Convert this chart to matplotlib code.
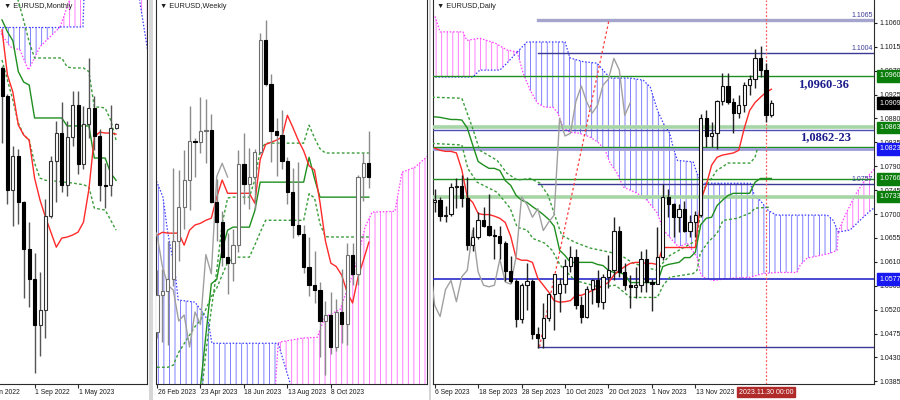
import numpy as np
import matplotlib.pyplot as plt
import matplotlib.transforms as mtransforms
from matplotlib.patches import Rectangle

plt.rcParams['font.family'] = ['Liberation Sans', 'DejaVu Sans']
plt.rcParams['hatch.linewidth'] = 0.6

BLUE_HATCH = '#6a6aff'
PINK_HATCH = '#ff6aff'
BLUE_LINE = '#3c3cff'
PINK_LINE = '#ff3cff'
RED = '#ff2a2a'
GREEN = '#1f8f1f'
DGREEN = '#3a9d3a'
GRAY = '#a0a0a0'
NAVY = '#3a3a96'
DOTS = (0, (2, 1.6))
CLOUD_DOTS = (0, (1.2, 1.4))

# ---------------- monthly bars, Mar 2022 .. Dec 2023
m_open = [1.1218, 1.1067, 1.0545, 1.0733, 1.0483, 1.0220, 1.0055, 0.9801, 0.9882, 1.0405, 1.0705,
          1.0863, 1.0576, 1.0839, 1.1016, 1.0689, 1.0909, 1.0998, 1.0843, 1.0573, 1.0575, 1.0886]
m_high = [1.1233, 1.1076, 1.0787, 1.0773, 1.0486, 1.0368, 1.0198, 1.0094, 1.0497, 1.0736, 1.0929,
          1.1033, 1.0930, 1.1095, 1.1092, 1.1012, 1.1275, 1.1064, 1.0882, 1.0695, 1.1017, 1.0915]
m_low = [1.0806, 1.0471, 1.0349, 1.0359, 0.9952, 0.9901, 0.9536, 0.9632, 0.9730, 1.0393, 1.0483,
         1.0533, 1.0516, 1.0788, 1.0635, 1.0662, 1.0833, 1.0766, 1.0488, 1.0448, 1.0516, 1.0882]
m_close = [1.1067, 1.0545, 1.0733, 1.0483, 1.0220, 1.0055, 0.9801, 0.9882, 1.0405, 1.0705, 1.0863,
           1.0576, 1.0839, 1.1016, 1.0689, 1.0909, 1.0998, 1.0843, 1.0573, 1.0568, 1.0886, 1.0909]
m_tenkan = [1.1430, 1.1181, 1.1087, 1.0905, 1.0850, 1.0822, 1.0612, 1.0491, 1.0397, 1.0314, 1.0231,
            1.0281, 1.0287, 1.0298, 1.0314, 1.0369, 1.0550, 1.0839, 1.0866, 1.0861, 1.0861, 1.0855]
m_kijun = [1.1485, 1.1420, 1.1370, 1.1200, 1.1142, 1.1126, 1.0944, 1.0944, 1.0944, 1.0944, 1.0944,
           1.0944, 1.0900, 1.0900, 1.0900, 1.0900, 1.0900, 1.0723, 1.0723, 1.0723, 1.0640, 1.0600]
m_dot_hi = [1.1800, 1.1750, 1.1680, 1.1590, 1.1480, 1.1364, 1.1275, 1.1275, 1.1275, 1.1275, 1.1275,
            1.1275, 1.1225, 1.1220, 1.1220, 1.1220, 1.1200, 1.1004, 1.1004, 1.0999, 1.0933, 1.0822]
m_dot_lo = [1.1264, 1.1153, 1.1043, 1.0916, 1.0850, 1.0822, 1.0695, 1.0612, 1.0600, 1.0598, 1.0595,
            1.0592, 1.0588, 1.0585, 1.0580, 1.0576, 1.0563, 1.0447, 1.0441, 1.0436, 1.0381, 1.0325]
m_blue_top = [(-0.5, 1.1446), (10.7, 1.1446)]
m_blue_bot = [(-0.5, 1.1425), (1.5, 1.1337), (3.3, 1.1319), (4.85, 1.1209), (5.8, 1.1264),
              (7.0, 1.1337), (10.7, 1.1446)]
m_pink1_top = [(10.7, 1.1446), (12.5, 1.1600), (15.2, 1.1700)]
m_pink1_bot = [(10.7, 1.1446), (14.9, 1.1446), (15.2, 1.1700)]
m_pink2_top = [(25.3, 1.1700), (27.5, 1.1700)]
m_pink2_bot = [(25.3, 1.1600), (26.9, 1.1301), (27.5, 1.1200)]
m_date_pos = [-2, 6, 14]
m_date_lbl = ['Jan 2022', '1 Sep 2022', '1 May 2023']

# ---------------- weekly bars, 26 Feb 2023 .. 26 Nov 2023
w_open = [1.0548, 1.0634, 1.0643, 1.0670, 1.0760, 1.0839, 1.0901, 1.0993, 1.0991, 1.1017,
          1.1019, 1.0850, 1.0805, 1.0723, 1.0708, 1.0750, 1.0940, 1.0893, 1.0908, 1.0967,
          1.1228, 1.1125, 1.1016, 1.1007, 1.0946, 1.0873, 1.0796, 1.0775, 1.0700, 1.0657,
          1.0645, 1.0573, 1.0587, 1.0512, 1.0594, 1.0565, 1.0728, 1.0683, 1.0910, 1.0941]
w_high = [1.0691, 1.0694, 1.0760, 1.0930, 1.0925, 1.0973, 1.1075, 1.0999, 1.1095, 1.1092,
          1.1055, 1.0905, 1.0830, 1.0779, 1.0787, 1.0971, 1.1012, 1.0976, 1.0975, 1.1245,
          1.1275, 1.1150, 1.1046, 1.1065, 1.0955, 1.0930, 1.0945, 1.0798, 1.0768, 1.0737,
          1.0665, 1.0620, 1.0640, 1.0624, 1.0695, 1.0756, 1.0756, 1.0914, 1.0965, 1.1017]
w_low = [1.0533, 1.0524, 1.0516, 1.0655, 1.0713, 1.0788, 1.0831, 1.0910, 1.0965, 1.0942,
         1.0848, 1.0760, 1.0702, 1.0635, 1.0667, 1.0733, 1.0845, 1.0834, 1.0834, 1.0962,
         1.1121, 1.0945, 1.0912, 1.0927, 1.0845, 1.0766, 1.0771, 1.0686, 1.0632, 1.0615,
         1.0488, 1.0448, 1.0495, 1.0504, 1.0522, 1.0517, 1.0657, 1.0656, 1.0852, 1.0883]
w_close = [1.0634, 1.0643, 1.0670, 1.0760, 1.0839, 1.0901, 1.0993, 1.0991, 1.1017, 1.1019,
           1.0850, 1.0805, 1.0723, 1.0708, 1.0750, 1.0940, 1.0893, 1.0908, 1.0967, 1.1228,
           1.1125, 1.1016, 1.1007, 1.0946, 1.0873, 1.0796, 1.0775, 1.0700, 1.0657, 1.0645,
           1.0573, 1.0587, 1.0512, 1.0594, 1.0565, 1.0728, 1.0683, 1.0910, 1.0941, 1.0909]
w_tenkan = [1.0773, 1.0780, 1.0778, 1.0778, 1.0778, 1.0750, 1.0785, 1.0797, 1.0801, 1.0808,
            1.0813, 1.0862, 1.0902, 1.0871, 1.0871, 1.0871, 1.0871, 1.0871, 1.0848, 1.0950,
            1.0985, 1.0990, 1.0995, 1.1002, 1.1053, 1.1025, 1.0995, 1.0970, 1.0935, 1.0925,
            1.0850, 1.0760, 1.0708, 1.0700, 1.0680, 1.0640, 1.0615, 1.0675, 1.0715, 1.0757]
nan = np.nan
w_kijun = [nan, nan, nan, nan, nan, nan, nan, 1.0300, 1.0420, 1.0540,
           1.0660, 1.0670, 1.0740, 1.0785, 1.0792, 1.0792, 1.0792, 1.0792, 1.0830, 1.0897,
           1.0897, 1.0897, 1.0897, 1.0897, 1.0897, 1.0897, 1.0897, 1.0897, 1.0955, 1.0905,
           1.0862, 1.0862, 1.0862, 1.0862, 1.0862, 1.0862, 1.0862, 1.0862, 1.0862, 1.0862]
w_dot_hi = [nan, nan, nan, nan, nan, nan, nan, nan, 1.0380, 1.0500,
            1.0600, 1.0690, 1.0800, 1.0860, 1.0862, 1.0862, 1.0862, 1.0862, 1.0902, 1.0972,
            1.0988, 1.0988, 1.0988, 1.0988, 1.0988, 1.0988, 1.0988, 1.0988, 1.1030, 1.1000,
            1.0975, 1.0965, 1.0965, 1.0965, 1.0965, 1.0965, 1.0965, 1.0965, 1.0965, 1.0965]
w_dot_lo = [1.0465, 1.0465, 1.0465, 1.0470, 1.0500, 1.0520, 1.0540, 1.0560, 1.0575, 1.0600,
            1.0630, 1.0650, 1.0680, 1.0710, 1.0719, 1.0722, 1.0722, 1.0722, 1.0750, 1.0780,
            1.0808, 1.0808, 1.0808, 1.0808, 1.0808, 1.0808, 1.0808, 1.0808, 1.0870, 1.0860,
            1.0800, 1.0770, 1.0769, 1.0769, 1.0769, 1.0769, 1.0769, 1.0769, 1.0769, 1.0769]
w_blue_top = [(-0.5, 1.0905), (0.0, 1.0897), (1.1, 1.0862), (2.0, 1.0778), (3.3, 1.0692),
              (3.9, 1.0622), (7.0, 1.0617), (9.4, 1.0575), (10.1, 1.0521), (22.3, 1.0521)]
w_blue_bot = [(-0.5, 1.0300), (21.2, 1.0300), (22.3, 1.0521)]
w_pink_top = [(22.3, 1.0521), (22.7, 1.0524), (26.7, 1.0533), (29.5, 1.0535), (30.9, 1.0582),
              (33.7, 1.0600), (36.5, 1.0699), (38.3, 1.0792), (39.6, 1.0827), (43.8, 1.0829),
              (45.1, 1.0920), (47.5, 1.0932), (49.4, 1.0953), (50.5, 1.0965)]
w_pink_bot = [(22.3, 1.0521), (24.5, 1.0428), (25.0, 1.0300), (50.5, 1.0300)]
w_date_pos = [0, 8, 16, 24, 32]
w_date_lbl = ['26 Feb 2023', '23 Apr 2023', '18 Jun 2023', '13 Aug 2023', '8 Oct 2023']

# ---------------- daily bars, 6 Sep 2023 .. 1 Dec 2023
d_open = [1.0722, 1.0727, 1.0697, 1.0700, 1.0750, 1.0753, 1.0731, 1.0642, 1.0657, 1.0689,
          1.0678, 1.0660, 1.0658, 1.0646, 1.0593, 1.0573, 1.0502, 1.0566, 1.0573, 1.0475,
          1.0467, 1.0504, 1.0550, 1.0551, 1.0568, 1.0603, 1.0619, 1.0528, 1.0507, 1.0558,
          1.0575, 1.0535, 1.0582, 1.0594, 1.0669, 1.0591, 1.0566, 1.0563, 1.0566, 1.0615,
          1.0572, 1.0568, 1.0620, 1.0732, 1.0718, 1.0694, 1.0710, 1.0669, 1.0685, 1.0698,
          1.0880, 1.0847, 1.0852, 1.0912, 1.0941, 1.0911, 1.0890, 1.0905, 1.0943, 1.0954,
          1.0993, 1.0971, 1.0886]
d_high = [1.0747, 1.0733, 1.0716, 1.0758, 1.0768, 1.0774, 1.0769, 1.0675, 1.0703, 1.0713,
          1.0737, 1.0671, 1.0677, 1.0649, 1.0621, 1.0577, 1.0570, 1.0608, 1.0578, 1.0487,
          1.0532, 1.0552, 1.0587, 1.0580, 1.0616, 1.0640, 1.0635, 1.0545, 1.0565, 1.0577,
          1.0595, 1.0588, 1.0623, 1.0695, 1.0677, 1.0608, 1.0585, 1.0601, 1.0630, 1.0635,
          1.0578, 1.0676, 1.0756, 1.0747, 1.0721, 1.0718, 1.0725, 1.0698, 1.0705, 1.0888,
          1.0895, 1.0873, 1.0914, 1.0965, 1.0965, 1.0918, 1.0925, 1.0949, 1.0962, 1.1010,
          1.1017, 1.0984, 1.0915]
d_low = [1.0703, 1.0686, 1.0685, 1.0697, 1.0712, 1.0714, 1.0632, 1.0631, 1.0653, 1.0675,
         1.0658, 1.0616, 1.0615, 1.0574, 1.0571, 1.0488, 1.0495, 1.0520, 1.0465, 1.0448,
         1.0447, 1.0498, 1.0482, 1.0516, 1.0552, 1.0591, 1.0522, 1.0495, 1.0504, 1.0530,
         1.0525, 1.0522, 1.0561, 1.0575, 1.0581, 1.0557, 1.0523, 1.0541, 1.0553, 1.0554,
         1.0517, 1.0568, 1.0614, 1.0695, 1.0657, 1.0666, 1.0667, 1.0656, 1.0656, 1.0694,
         1.0826, 1.0827, 1.0823, 1.0906, 1.0907, 1.0852, 1.0881, 1.0892, 1.0925, 1.0937,
         1.0958, 1.0873, 1.0882]
d_close = [1.0727, 1.0697, 1.0699, 1.0750, 1.0753, 1.0731, 1.0642, 1.0657, 1.0689, 1.0678,
           1.0660, 1.0658, 1.0646, 1.0593, 1.0573, 1.0502, 1.0566, 1.0573, 1.0475, 1.0467,
           1.0504, 1.0550, 1.0588, 1.0568, 1.0603, 1.0619, 1.0528, 1.0507, 1.0558, 1.0575,
           1.0535, 1.0582, 1.0594, 1.0669, 1.0591, 1.0566, 1.0563, 1.0566, 1.0615, 1.0572,
           1.0568, 1.0620, 1.0732, 1.0718, 1.0694, 1.0710, 1.0669, 1.0685, 1.0698, 1.0880,
           1.0847, 1.0852, 1.0912, 1.0941, 1.0911, 1.0890, 1.0905, 1.0943, 1.0954, 1.0993,
           1.0971, 1.0886, 1.0909]
d_tenkan = [1.0824, 1.0820, 1.0818, 1.0818, 1.0815, 1.0783, 1.0732, 1.0722, 1.0701, 1.0699,
            1.0699, 1.0696, 1.0692, 1.0684, 1.0658, 1.0617, 1.0613, 1.0613, 1.0609, 1.0579,
            1.0566, 1.0553, 1.0537, 1.0534, 1.0535, 1.0537, 1.0547, 1.0547, 1.0551, 1.0556,
            1.0560, 1.0566, 1.0571, 1.0585, 1.0594, 1.0601, 1.0607, 1.0609, 1.0609, 1.0607,
            1.0607, 1.0605, 1.0637, 1.0637, 1.0637, 1.0637, 1.0637, 1.0637, 1.0637, 1.0726,
            1.0754, 1.0792, 1.0807, 1.0811, 1.0813, 1.0815, 1.0820, 1.0861, 1.0895, 1.0910,
            1.0920, 1.0929, 1.0935]
d_kijun = [1.0883, 1.0882, 1.0880, 1.0878, 1.0878, 1.0877, 1.0862, 1.0830, 1.0799, 1.0792,
           1.0786, 1.0786, 1.0782, 1.0763, 1.0754, 1.0735, 1.0726, 1.0722, 1.0714, 1.0707,
           1.0699, 1.0690, 1.0677, 1.0632, 1.0622, 1.0609, 1.0609, 1.0609, 1.0609, 1.0609,
           1.0605, 1.0603, 1.0594, 1.0590, 1.0590, 1.0586, 1.0571, 1.0571, 1.0571, 1.0571,
           1.0571, 1.0571, 1.0601, 1.0605, 1.0607, 1.0609, 1.0618, 1.0618, 1.0628, 1.0680,
           1.0692, 1.0694, 1.0716, 1.0726, 1.0735, 1.0739, 1.0739, 1.0739, 1.0739, 1.0760,
           1.0767, 1.0767, 1.0767]
d_dot_hi = [(-0.5, 1.0920), (5.0, 1.0918), (6.9, 1.0864), (8.3, 1.0820), (11.5, 1.0801),
            (13.3, 1.0777), (15.2, 1.0764), (17.6, 1.0767), (19.4, 1.0758), (20.9, 1.0735),
            (22.3, 1.0692), (23.4, 1.0660), (25.8, 1.0647), (28.6, 1.0636), (32.3, 1.0628),
            (34.5, 1.0621), (36.3, 1.0609), (38.7, 1.0600), (41.0, 1.0594), (42.1, 1.0609),
            (43.3, 1.0622), (48.3, 1.0651), (49.4, 1.0745), (51.1, 1.0769), (52.0, 1.0783),
            (52.9, 1.0788), (54.0, 1.0796), (58.1, 1.0796), (59.0, 1.0807), (59.5, 1.0826)]
d_dot_lo = [(-0.5, 1.0833), (5.0, 1.0830), (6.1, 1.0786), (7.8, 1.0760), (11.5, 1.0741),
            (13.9, 1.0711), (15.2, 1.0675), (17.0, 1.0670), (18.1, 1.0654), (20.3, 1.0645),
            (21.6, 1.0632), (23.1, 1.0604), (25.8, 1.0575), (30.5, 1.0562), (33.3, 1.0566),
            (36.0, 1.0543), (41.0, 1.0543), (42.1, 1.0566), (43.3, 1.0581), (47.6, 1.0588),
            (48.3, 1.0594), (48.9, 1.0626), (50.2, 1.0645), (52.0, 1.0664), (53.1, 1.0688),
            (55.7, 1.0692), (58.1, 1.0702), (59.0, 1.0711), (61.8, 1.0713)]
d_pink1_top = [(-0.5, 1.1075), (0.1, 1.1071), (1.0, 1.1043), (5.2, 1.1043), (5.9, 1.1027),
               (8.3, 1.1031), (11.1, 1.1022), (13.3, 1.1009), (15.2, 1.1005)]
d_pink1_bot = [(-0.5, 1.0958), (7.05, 1.0958), (8.3, 1.0971), (12.0, 1.0971), (13.3, 1.0984),
               (15.2, 1.1005)]
d_blue_top = [(15.2, 1.1005), (17.0, 1.1024), (24.0, 1.1024), (24.9, 1.0994), (27.3, 1.0987),
              (29.9, 1.0984), (31.0, 1.0971), (32.3, 1.0956), (36.0, 1.0956), (38.4, 1.0952),
              (39.7, 1.0939), (41.0, 1.0896), (42.1, 1.0871), (43.3, 1.0852), (43.9, 1.0826),
              (44.7, 1.0801), (47.6, 1.0798), (48.3, 1.0777), (49.2, 1.0758), (58.1, 1.0758),
              (59.0, 1.0732), (59.9, 1.0726), (61.4, 1.0707), (62.2, 1.0702), (63.0, 1.0698),
              (72.3, 1.0698), (73.4, 1.0688), (74.3, 1.0666)]
d_blue_bot = [(15.2, 1.1005), (16.3, 1.0965), (17.6, 1.0933), (18.9, 1.0909), (20.3, 1.0901),
              (21.8, 1.0901), (22.7, 1.0890), (23.6, 1.0864), (24.9, 1.0854), (26.7, 1.0852),
              (28.6, 1.0845), (30.1, 1.0835), (31.4, 1.0820), (32.3, 1.0796), (33.6, 1.0777),
              (34.7, 1.0751), (37.3, 1.0739), (38.4, 1.0732), (39.1, 1.0726), (41.0, 1.0702),
              (42.1, 1.0670), (43.3, 1.0656), (44.9, 1.0638), (46.5, 1.0645), (48.3, 1.0619),
              (48.9, 1.0590), (49.4, 1.0581), (51.3, 1.0575), (54.4, 1.0579), (58.1, 1.0581),
              (60.5, 1.0588), (63.0, 1.0590), (66.7, 1.0590), (67.3, 1.0604), (68.6, 1.0617),
              (72.8, 1.0626), (74.1, 1.0632), (74.3, 1.0666)]
d_pink2_top = [(74.3, 1.0666), (75.6, 1.0698), (77.4, 1.0735), (79.2, 1.0764), (80.3, 1.0777),
               (81.0, 1.0785)]
d_pink2_bot = [(74.3, 1.0666), (76.5, 1.0670), (78.3, 1.0688), (80.3, 1.0707), (81.0, 1.0712)]
# horizontal levels: full width (value, colour, width)
d_levels = [(1.0960, GREEN, 1.0), (1.0863, '#a6d6a6', 2.6), (1.0858, '#4d4db3', 1.0),
            (1.0827, GREEN, 1.0), (1.0823, '#9c9cd8', 2.0), (1.0766, GREEN, 1.0),
            (1.0733, '#a6d6a6', 2.6), (1.0577, '#2a2acc', 1.2)]
# levels drawn from the October low onwards
d_low_bar = 19.1
d_fib = [(1.1065, '#a4a4cc', 2.4, '1.1065'), (1.1004, NAVY, 1.0, '1.1004'),
         (1.0757, NAVY, 1.0, '1.0757'), (1.0450, NAVY, 1.0, None)]
d_trend = [(19.3, 1.0450), (32.1, 1.1065)]
d_cursor = 61
d_ticks = [1.1060, 1.1015, 1.0970, 1.0925, 1.0880, 1.0835, 1.0790, 1.0745, 1.0700, 1.0655,
           1.0610, 1.0565, 1.0520, 1.0475, 1.0430, 1.0385]
d_boxes = [(1.0960, '#0a7d0a'), (1.0909, '#000000'), (1.0863, '#0a7d0a'), (1.0823, '#1818f0'),
           (1.0766, '#0a7d0a'), (1.0733, '#0a7d0a'), (1.0577, '#1818f0')]
d_date_pos = [0, 8, 16, 24, 32, 40, 48]
d_date_lbl = ['6 Sep 2023', '18 Sep 2023', '28 Sep 2023', '10 Oct 2023', '20 Oct 2023',
              '1 Nov 2023', '13 Nov 2023']


def candles(ax, o, h, l, c, wick, edge, width=0.6):
    x = np.arange(len(o))
    o, h, l, c = (np.asarray(v) for v in (o, h, l, c))
    up = c >= o
    ax.vlines(x, l, h, color=wick, lw=1, zorder=5)
    ax.bar(x, np.maximum(np.abs(c - o), 1e-5), width, np.minimum(o, c),
           color=np.where(up, 'white', 'black'), edgecolor=np.where(up, edge, 'black'),
           linewidth=0.8, zorder=6)


def series(ax, vals, color, ls='-', shift=0, lw=1.0):
    v = np.asarray(vals, dtype=float)
    ax.plot(np.arange(len(v)) + shift, v, color=color, ls=ls, lw=lw, zorder=4)


def path(ax, pts, color, ls='-', lw=1.0):
    x, y = zip(*pts)
    ax.plot(x, y, color=color, ls=ls, lw=lw, zorder=4)


def cloud(ax, top, bot, hatch_c, top_c, bot_c):
    tx, ty = zip(*top)
    bx, by = zip(*bot)
    ax.fill(list(tx) + list(bx)[::-1], list(ty) + list(by)[::-1], facecolor='none',
            edgecolor=hatch_c, hatch='|||', lw=0, zorder=1)
    ax.plot(tx, ty, color=top_c, ls=CLOUD_DOTS, lw=0.9, zorder=2)
    ax.plot(bx, by, color=bot_c, ls=CLOUD_DOTS, lw=0.9, zorder=2)


def frame(ax, xlim, ylim, title, left=True):
    ax.set_xlim(xlim)
    ax.set_ylim(ylim)
    ax.set_facecolor('white')
    for s in ax.spines.values():
        s.set_color('#2b2b2b')
        s.set_linewidth(0.8)
    ax.spines['top'].set_visible(False)
    ax.spines['left'].set_visible(left)
    ax.set_yticks([])
    ax.tick_params(axis='x', length=3, width=0.8, color='#2b2b2b', labelbottom=False)
    ax.annotate('\u25bc ' + title, xy=(0, 1), xycoords='axes fraction', xytext=(3, -2),
                textcoords='offset points', va='top', ha='left', fontsize=5.3, color='#202020')


def dates(ax, pos, labels):
    ax.set_xticks([p for p in pos if ax.get_xlim()[0] <= p])
    tr = mtransforms.blended_transform_factory(ax.transData, ax.transAxes)
    for p, t in zip(pos, labels):
        ax.text(p + 0.1, -0.012, t, transform=tr, ha='left', va='top', fontsize=4.9,
                color='#1a1a1a', clip_on=False)


fig = plt.figure(figsize=(9, 4), dpi=100, facecolor='#d6d6d6')
for x0, x1 in [(0, 149), (153, 429), (431, 900)]:
    fig.patches.append(Rectangle((x0 / 900, 0), (x1 - x0) / 900, 1, transform=fig.transFigure,
                                 facecolor='white', edgecolor='none', zorder=-1))
axm = fig.add_axes([0, 16 / 400, 147 / 900, 384 / 400])
axw = fig.add_axes([156 / 900, 16 / 400, 271 / 900, 384 / 400])
axd = fig.add_axes([433 / 900, 16 / 400, 441 / 900, 384 / 400])

# ---- monthly
frame(axm, (-0.37, 26.7), (0.9476, 1.1595), 'EURUSD,Monthly', left=False)
cloud(axm, m_blue_top, m_blue_bot, BLUE_HATCH, BLUE_LINE, PINK_LINE)
cloud(axm, m_pink1_top, m_pink1_bot, PINK_HATCH, PINK_LINE, BLUE_LINE)
cloud(axm, m_pink2_top, m_pink2_bot, PINK_HATCH, PINK_LINE, BLUE_LINE)
series(axm, m_dot_hi, DGREEN, DOTS)
series(axm, m_dot_lo, DGREEN, DOTS)
series(axm, m_kijun, GREEN)
series(axm, m_tenkan, RED)
candles(axm, m_open, m_high, m_low, m_close, '#555555', '#333333', 0.55)
dates(axm, m_date_pos, m_date_lbl)

# ---- weekly
frame(axw, (-0.18, 49.7), (1.0426, 1.1322), 'EURUSD,Weekly')
cloud(axw, w_blue_top, w_blue_bot, BLUE_HATCH, BLUE_LINE, PINK_LINE)
cloud(axw, w_pink_top, w_pink_bot, PINK_HATCH, PINK_LINE, BLUE_LINE)
series(axw, w_dot_hi, DGREEN, DOTS)
series(axw, w_dot_lo, DGREEN, DOTS)
series(axw, w_kijun, GREEN)
series(axw, w_tenkan, RED)
series(axw, w_close, GRAY, shift=-26)
candles(axw, w_open, w_high, w_low, w_close, '#8a8a8a', '#6e6e6e', 0.6)
dates(axw, w_date_pos, w_date_lbl)

# ---- daily
frame(axd, (-0.31, 80.9), (1.0380, 1.1103), 'EURUSD,Daily')
cloud(axd, d_pink1_top, d_pink1_bot, PINK_HATCH, PINK_LINE, BLUE_LINE)
cloud(axd, d_blue_top, d_blue_bot, BLUE_HATCH, BLUE_LINE, PINK_LINE)
cloud(axd, d_pink2_top, d_pink2_bot, PINK_HATCH, PINK_LINE, BLUE_LINE)
for v, c, w in d_levels:
    axd.axhline(v, color=c, lw=w, zorder=3)
for v, c, w, lbl in d_fib:
    axd.plot([d_low_bar, 81], [v, v], color=c, lw=w, zorder=3)
    if lbl:
        axd.text(80.6, v + 0.0002, lbl, ha='right', va='bottom', fontsize=5, color=NAVY, zorder=7)
path(axd, d_trend, '#ff3a3a', (0, (2, 2)), 0.9)
axd.axvline(d_cursor, color='#ff5a5a', ls=(0, (1.5, 1.5)), lw=0.9, zorder=3)
path(axd, d_dot_hi, DGREEN, DOTS)
path(axd, d_dot_lo, DGREEN, DOTS)
series(axd, d_kijun, GREEN)
series(axd, d_tenkan, RED)
series(axd, d_close, GRAY, shift=-26)
candles(axd, d_open, d_high, d_low, d_close, '#222222', '#111111', 0.6)
dates(axd, d_date_pos, d_date_lbl)
axd.text(66.9, 1.0945, '1,0960-36', fontsize=9, fontweight='bold', family='Liberation Serif',
         color='#1c1c8c', va='center', ha='left', zorder=8)
axd.text(67.3, 1.0845, '1,0862-23', fontsize=9, fontweight='bold', family='Liberation Serif',
         color='#1c1c8c', va='center', ha='left', zorder=8)
axd.text(d_cursor, -0.012, '2023.11.30 00:00', ha='center', va='top', fontsize=5.0, color='white',
         transform=mtransforms.blended_transform_factory(axd.transData, axd.transAxes),
         bbox=dict(boxstyle='square,pad=0.25', fc='#b02a2a', ec='#b02a2a'), zorder=9, clip_on=False)

axd.yaxis.tick_right()
axd.set_yticks(d_ticks)
axd.set_yticklabels([f'{t:.4f}' for t in d_ticks])
axd.tick_params(axis='y', length=2.5, width=0.8, pad=1.2, labelsize=5, colors='#1a1a1a')
ytr = mtransforms.blended_transform_factory(axd.transAxes, axd.transData)
for v, c in d_boxes:
    axd.annotate(f'{v:.4f}', xy=(1, v), xycoords=ytr, xytext=(3.6, 0), textcoords='offset points',
                 ha='left', va='center', fontsize=5, color='white', zorder=10,
                 bbox=dict(boxstyle='square,pad=0.35', fc=c, ec=c), annotation_clip=False)

fig.savefig('out.png', dpi=100, facecolor=fig.get_facecolor())
